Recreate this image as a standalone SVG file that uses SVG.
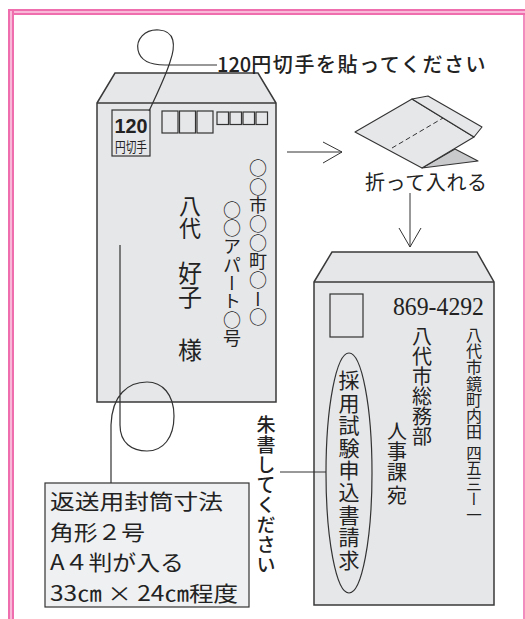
<svg xmlns="http://www.w3.org/2000/svg" width="525" height="619" viewBox="0 0 525 619">
<style>
.env{fill:#e6e7e9;stroke:#3a3a3a;stroke-width:1.5;stroke-linejoin:miter}
.ln{fill:none;stroke:#333;stroke-width:1.2}
.thin{fill:none;stroke:#333;stroke-width:1}
.jp{font-family:"Noto Sans CJK JP","Noto Sans",sans-serif;fill:#222}
.vt{writing-mode:vertical-rl;font-family:"Noto Sans CJK JP",sans-serif;fill:#222}
.box{fill:none;stroke:#333;stroke-width:1.2}
</style>
<rect width="525" height="619" fill="#ffffff"/>
<g id="frame">
<rect x="8" y="9" width="517" height="6" fill="#ef6fae"/>
<rect x="8" y="11" width="517" height="2" fill="#f9b8d8"/>
<rect x="8" y="9" width="6" height="610" fill="#ef6fae"/>
<rect x="10" y="11" width="2" height="608" fill="#f9b8d8"/>
<rect x="523.2" y="15" width="1.6" height="604" fill="#ef6fae"/>
</g>
<g id="left-envelope">
<path class="env" d="M97,103 L115,73 L258,73 L276,103 L276,402 L97,402 Z"/>
<line x1="97" y1="103" x2="276" y2="103" stroke="#3a3a3a" stroke-width="1.5"/>
<rect class="box" x="112" y="110" width="38" height="46" fill="#e6e7e9"/>
<text x="114.5" y="133" font-family="'Liberation Sans',Arial,sans-serif" font-weight="bold" font-size="21" fill="#222" textLength="33" lengthAdjust="spacingAndGlyphs">120</text>
<text class="jp" x="115" y="152" font-size="13.5" textLength="32" lengthAdjust="spacingAndGlyphs">円切手</text>
<rect class="box" x="162" y="111" width="16" height="22"/>
<rect class="box" x="179.5" y="111" width="16" height="22"/>
<rect class="box" x="197" y="111" width="16" height="22"/>
<rect class="box" x="217" y="112" width="11.5" height="12.5"/>
<rect class="box" x="230" y="112" width="11.5" height="12.5"/>
<rect class="box" x="243" y="112" width="11.5" height="12.5"/>
<rect class="box" x="256" y="112" width="11.5" height="12.5"/>
<text class="vt" x="258" y="159" font-size="18" letter-spacing="0.7">○○市○○町○ー○</text>
<text class="vt" x="232" y="201" font-size="18" letter-spacing="0.3">○○アパート○号</text>
<text class="vt" x="190" y="195" font-size="22">八代</text>
<text class="vt" x="190" y="261" font-size="24">好子</text>
<text class="vt" x="190" y="338" font-size="24">様</text>
</g>
<g id="stamp-note">
<text class="jp" x="217" y="72" font-size="20" font-weight="500">120<tspan letter-spacing="1.6">円切手を貼ってください</tspan></text>
</g>
<g id="folded-paper">
<path d="M422,168 L455,149 L478,161 Z" fill="#c9cacc" stroke="#333" stroke-width="1.1" stroke-linejoin="round"/>
<path d="M355,132 L412,99 L474,137 L422,168 Z" fill="#e6e7e9" stroke="#333" stroke-width="1.1" stroke-linejoin="round"/>
<path d="M412,99 L428,96 L482,127 L474,137 Z" fill="#e6e7e9" stroke="#333" stroke-width="1.1" stroke-linejoin="round"/>
<line x1="392" y1="148" x2="443" y2="118" stroke="#333" stroke-width="1" stroke-dasharray="5,3"/>
<text class="jp" x="365" y="190" font-size="20" textLength="122" lengthAdjust="spacing">折って入れる</text>
</g>
<g id="right-envelope">
<path class="env" d="M314,282 L332,252 L477,252 L494,282 L494,605 L314,605 Z"/>
<line x1="314" y1="282" x2="494" y2="282" stroke="#3a3a3a" stroke-width="1.5"/>
<rect class="box" x="330" y="294" width="33" height="43"/>
<text x="393" y="315" font-family="'Liberation Serif','Times New Roman',serif" font-size="26" fill="#222" textLength="91" lengthAdjust="spacingAndGlyphs">869-4292</text>
<text class="vt" x="474" y="327" font-size="16" letter-spacing="0.2">八代市鏡町内田</text>
<text class="vt" x="474" y="445" font-size="15.5">四五三ー一</text>
<text class="vt" x="422" y="326" font-size="20">八代市総務部</text>
<text class="vt" x="397" y="421" font-size="20" letter-spacing="0.8">人事課</text>
<text class="vt" x="397" y="485" font-size="20">宛</text>
<ellipse cx="349" cy="473" rx="23" ry="120" fill="none" stroke="#333" stroke-width="1.2"/>
<text class="vt" x="349" y="370" font-size="21" letter-spacing="1.4">採用試験申込書請求</text>
</g>
<g id="red-note">
<text class="vt" x="266" y="415" font-size="19" font-weight="500" letter-spacing="1">朱書してください</text>
</g>
<g id="size-box">
<rect x="45" y="483" width="204" height="124" fill="#eff0f1" stroke="#333" stroke-width="1.2"/>
<g class="jp" font-size="21">
<text x="50" y="509" textLength="173" lengthAdjust="spacingAndGlyphs">返送用封筒寸法</text>
<text x="50" y="539.5" textLength="95" lengthAdjust="spacingAndGlyphs">角形２号</text>
<text x="50" y="570" textLength="134" lengthAdjust="spacingAndGlyphs">A４判が入る</text>
<text x="50" y="600.5" textLength="188" lengthAdjust="spacingAndGlyphs">33㎝ × 24㎝程度</text>
</g>
</g>
<g id="connectors">
<path class="ln" d="M149,111 C158,92 166,75 170,62 C176,45 175,31 159,30 C144,29 136,40 138,50 C140,60 150,65 165,65 L217,65"/>
<path class="ln" d="M120,245 L120,425 C120,443 132,451 147,451 C163,451 174,438 174,416 C174,394 162,382 147,382 C128,382 112,395 111,425 L111,483"/>
<line class="thin" x1="287" y1="152" x2="342" y2="152"/>
<polyline class="thin" points="323,142 342,152 323,163"/>
<line class="thin" x1="410" y1="193" x2="410" y2="247"/>
<polyline class="thin" points="399,228 410,247 421,228"/>
<line class="thin" x1="280" y1="472" x2="326" y2="472"/>
</g>
</svg>
